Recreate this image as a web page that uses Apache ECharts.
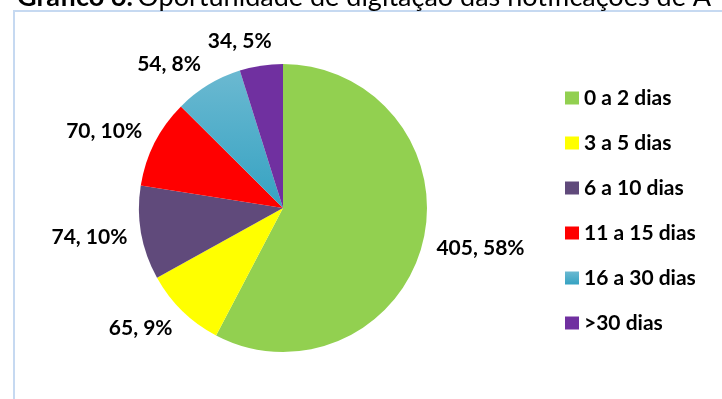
<!DOCTYPE html>
<html>
<head>
<meta charset="utf-8">
<script src="https://cdn.jsdelivr.net/npm/echarts@6/dist/echarts.min.js"></script>
<style>
  html, body { margin: 0; padding: 0; background: #fff; }
  #grafico { width: 722px; height: 399px; }
</style>
</head>
<body>
<div id="grafico"></div>
<script>
var categorias = ['0 a 2 dias', '3 a 5 dias', '6 a 10 dias', '11 a 15 dias', '16 a 30 dias', '>30 dias'];
var valores = [405, 65, 74, 70, 54, 34];
var cores = ['#92d050', '#ffff00', '#604a7b', '#ff0000', '#4bacc6', '#7030a0'];

var centro = [283, 208];
var raio = 144;

var dom = document.getElementById("grafico");
var myChart = echarts.init(dom);

var dados = categorias.map(function (nome, i) {
    var cor = cores[i];
    if (i == 4) {
        cor = new echarts.graphic.LinearGradient(0, 0, 0, 1, [
            { offset: 0, color: '#6bb9d1' },
            { offset: 1, color: '#35a2c2' }
        ]);
    }
    return { value: valores[i], name: nome, itemStyle: { color: cor } };
});

// angulo medio de cada fatia (sentido horario a partir do topo)
var total = valores.reduce(function (a, b) { return a + b; }, 0);
var acum = 0;
var angMedio = valores.map(function (v) {
    var a = (acum + v / 2) / total * Math.PI * 2;
    acum += v;
    return a;
});

// rotulos do lado de fora, estilo Excel
function posRotulo(params) {
    var a = angMedio[params.dataIndex];
    var dx = Math.sin(a), dy = -Math.cos(a);
    var w = params.labelRect.width, h = params.labelRect.height;
    var r = raio + 14;
    var sx = Math.max(-1, Math.min(1, dx * 4));
    return {
        x: centro[0] + r * dx + sx * w / 2,
        y: centro[1] + r * dy + dy * h / 2,
        align: 'center',
        verticalAlign: 'middle'
    };
}

option = {
    backgroundColor: '#fff',
    textStyle: { fontFamily: 'Lato' },
    title: {
        text: '{b|Gráfico 6.} {n|Oportunidade de digitação das notificações de A}',
        left: 12,
        top: -21,
        textStyle: {
            rich: {
                b: { fontFamily: 'Lato', fontWeight: 'bold', fontSize: 27, color: '#000' },
                n: { fontFamily: 'Lato', fontWeight: 'normal', fontSize: 27, color: '#000' }
            }
        }
    },
    graphic: [{
        type: 'rect',
        shape: { x: 14, y: 11, width: 760, height: 420 },
        style: { fill: 'none', stroke: '#c6d9f1', lineWidth: 2 },
        z: -1
    }],
    legend: {
        orient: 'vertical',
        left: 560,
        top: 81,
        itemWidth: 14,
        itemHeight: 13,
        itemGap: 21,
        icon: 'rect',
        data: categorias,
        textStyle: { color: '#000', fontFamily: 'Lato', fontWeight: 'bold', fontSize: 21, lineHeight: 24 }
    },
    series: [{
        name: 'Oportunidade',
        type: 'pie',
        center: centro,
        radius: raio,
        startAngle: 90,
        clockwise: true,
        animation: false,
        emphasis: { disabled: true },
        percentPrecision: 0,
        label: {
            show: true,
            position: 'outside',
            formatter: '{c}, {d}%',
            color: '#000',
            fontFamily: 'Lato',
            fontWeight: 'bold',
            fontSize: 21
        },
        labelLine: { show: false },
        labelLayout: posRotulo,
        data: dados
    }]
};

if (option && typeof option === "object") {
    myChart.setOption(option, true);
}
</script>
</body>
</html>
